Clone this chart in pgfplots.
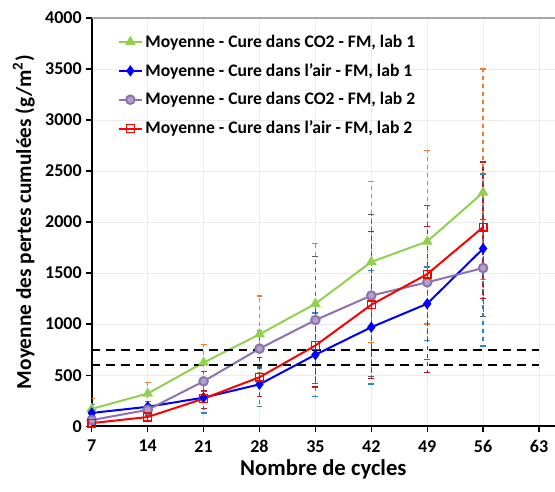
\documentclass[border=0pt]{standalone}
\usepackage{fontspec}
\setmainfont{Carlito}
\usepackage{pgfplots}
\pgfplotsset{compat=1.18}
\definecolor{cgreen}{HTML}{92D050}
\definecolor{cblue}{HTML}{0000FF}
\definecolor{cpurple}{HTML}{8C72AE}
\definecolor{cpurplefill}{HTML}{B3A2C7}
\definecolor{cred}{HTML}{FF0000}
\definecolor{eorange}{HTML}{ED7D31}
\definecolor{eblue}{HTML}{2E86C8}
\definecolor{egray}{HTML}{5F5F5F}
\definecolor{ered}{HTML}{C0152A}
\begin{document}
\begin{tikzpicture}
\useasboundingbox (-68.8pt,-48.75pt) rectangle (347.25pt,319.5pt);
\begin{axis}[
  at={(0,0)}, anchor=south west,
  scale only axis, width=347.25pt, height=306pt,
  xmin=7, xmax=65, ymin=0, ymax=4000,
  xtick={7,14,21,28,35,42,49,56,63},
  ytick={0,500,1000,1500,2000,2500,3000,3500,4000},
  axis x line*=bottom, axis y line*=left,
  axis line style={black, line width=1.2pt, -},
  tick align=outside, major tick length=4pt,
  tick style={black, line width=1pt},
  grid=major, grid style={color=black!8, line width=0.5pt},
  tick label style={font=\bfseries\fontsize{13.5}{15}\selectfont},
  xticklabel={\textbf{\pgfmathprintnumber[assume math mode=true]{\tick}}},
  yticklabel={\textbf{\pgfmathprintnumber[assume math mode=true,set thousands separator={}]{\tick}}},
  xticklabel style={yshift=-3pt},
  xlabel={Nombre de cycles},
  xlabel style={font=\bfseries\fontsize{17}{19}\selectfont, yshift=2pt},
  ylabel={Moyenne des pertes cumulées (g/m\textsuperscript{2})},
  ylabel style={font=\bfseries\fontsize{16}{18}\selectfont, yshift=1pt},
  legend style={draw=none, fill=none, at={(0.056,0.966)}, anchor=north west,
    font=\bfseries\fontsize{13.2}{15}\selectfont, row sep=6.7pt, inner sep=0pt},
  legend cell align=left,
  error bars/y dir=both, error bars/y explicit,
]
\draw[black!35, line width=0.8pt] (rel axis cs:0,1) -- (rel axis cs:1,1);
% Green: CO2 lab 1
\addplot[cgreen, line width=1.5pt, mark=triangle*, mark size=3.2pt,
  mark options={fill=cgreen, draw=cgreen, solid},
  error bars/error bar style={eorange, dashed, line width=1pt},
  error bars/error mark options={eorange, solid, rotate=90, mark size=2.2pt, line width=1pt}]
coordinates {
 (7,170) += (0,100) -= (0,100)
 (14,320) += (0,105) -= (0,105)
 (21,624) += (0,177) -= (0,177)
 (28,900) += (0,375) -= (0,375)
 (35,1200) += (0,590) -= (0,600)
 (42,1610) += (0,790) -= (0,790)
 (49,1810) += (0,890) -= (0,810)
 (56,2290) += (0,1210) -= (0,850)
};
\addlegendentry{Moyenne - Cure dans CO2 - FM, lab 1}
% Blue: air lab 1
\addplot[cblue, line width=1.5pt, mark=diamond*, mark size=3pt,
  mark options={fill=cblue, draw=cblue, solid},
  error bars/error bar style={eblue, dashed, line width=1pt},
  error bars/error mark options={eblue, solid, rotate=90, mark size=2.2pt, line width=1pt}]
coordinates {
 (7,130) += (0,85) -= (0,85)
 (14,190) += (0,50) -= (0,50)
 (21,280) += (0,150) -= (0,150)
 (28,410) += (0,160) -= (0,220)
 (35,700) += (0,410) -= (0,410)
 (42,970) += (0,556) -= (0,556)
 (49,1200) += (0,360) -= (0,360)
 (56,1740) += (0,730) -= (0,953)
};
\addlegendentry{Moyenne - Cure dans l'air - FM, lab 1}
% Purple: CO2 lab 2
\addplot[cpurple, line width=1.5pt, mark=*, mark size=3.2pt,
  mark options={fill=cpurplefill, draw=cpurple, solid},
  error bars/error bar style={egray, dashed, line width=0.8pt},
  error bars/error mark options={egray, solid, rotate=90, mark size=2.2pt, line width=0.8pt}]
coordinates {
 (7,60) += (0,40) -= (0,40)
 (14,160) += (0,50) -= (0,50)
 (21,440) += (0,100) -= (0,100)
 (28,760) += (0,180) -= (0,180)
 (35,1040) += (0,620) -= (0,620)
 (42,1280) += (0,795) -= (0,795)
 (49,1410) += (0,757) -= (0,757)
 (56,1550) += (0,480) -= (0,478)
};
\addlegendentry{Moyenne - Cure dans CO2 - FM, lab 2}
% Red: air lab 2
\addplot[cred, line width=1.5pt, mark=square, mark size=2.9pt,
  mark options={draw=cred, fill=white, solid, line width=1pt},
  error bars/error bar style={ered, dashed, line width=1pt},
  error bars/error mark options={ered, solid, rotate=90, mark size=2.2pt, line width=1pt}]
coordinates {
 (7,30) += (0,30) -= (0,30)
 (14,90) += (0,45) -= (0,45)
 (21,270) += (0,80) -= (0,95)
 (28,480) += (0,190) -= (0,190)
 (35,790) += (0,405) -= (0,405)
 (42,1190) += (0,720) -= (0,720)
 (49,1490) += (0,464) -= (0,964)
 (56,1950) += (0,640) -= (0,700)
};
\addlegendentry{Moyenne - Cure dans l'air - FM, lab 2}
% threshold lines
\addplot[black, line width=1.6pt, dash pattern=on 6.5pt off 4.5pt, forget plot] coordinates {(7,750) (63,750)};
\addplot[black, line width=1.6pt, dash pattern=on 6.5pt off 4.5pt, forget plot] coordinates {(7,600) (63,600)};
\end{axis}
\end{tikzpicture}
\end{document}
